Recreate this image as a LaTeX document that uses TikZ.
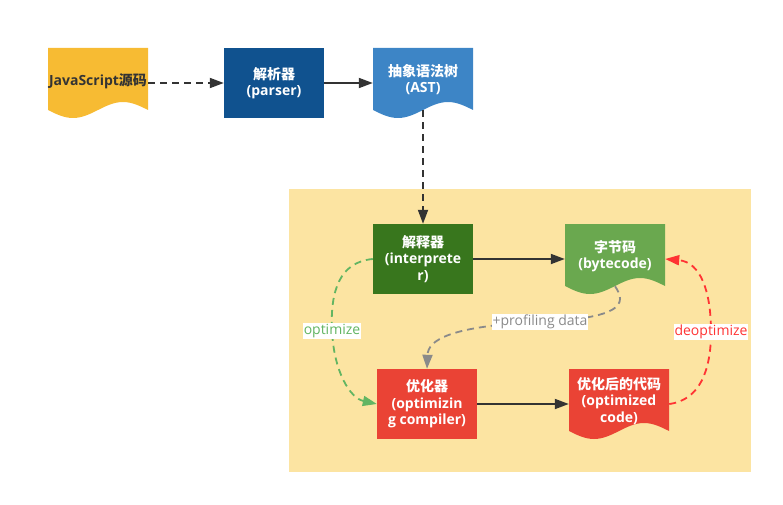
\documentclass[tikz,border=0pt]{standalone}
\usepackage{fontspec}
\setmainfont{Open Sans}
\newfontfamily\cjk{Noto Sans CJK SC}
\usetikzlibrary{arrows.meta}
\definecolor{jsyellow}{HTML}{F7BB33}
\definecolor{parserblue}{HTML}{10528F}
\definecolor{astblue}{HTML}{3D85C6}
\definecolor{engineback}{HTML}{FCE4A2}
\definecolor{interpgreen}{HTML}{38761D}
\definecolor{bytegreen}{HTML}{6AA84F}
\definecolor{optred}{HTML}{EA4335}
\definecolor{linkdark}{HTML}{333333}
\definecolor{profgray}{HTML}{8A8A8A}
\definecolor{optgreen}{HTML}{62B562}
\definecolor{deoptred}{HTML}{FF3333}
\begin{document}
\begin{tikzpicture}[x=1pt, y=-1pt,
  box/.style={minimum width=100pt, minimum height=70pt, inner sep=0pt, align=center,
    text=white, font=\bfseries\fontsize{14}{16.5}\selectfont},
  flatbox/.style={box, fill=#1},
  docbox/.style={box, text depth=9pt, path picture={
    \fill[#1] (path picture bounding box.north west) -- (path picture bounding box.north east)
      -- ++(0,62) sin ++(-25,-8) cos ++(-25,8) sin ++(-25,8) cos ++(-25,-8) -- cycle;}},
  link/.style={line width=1.8pt, draw=#1, -{Triangle[length=14pt,width=10pt]}},
  dashlink/.style={link=#1, dash pattern=on 7pt off 5pt},
  lbl/.style={fill=white, inner sep=1pt, font=\fontsize{14}{15}\selectfont}]
\useasboundingbox (0,0) rectangle (783,505);
% the engine area
\fill[engineback] (289,189) rectangle (751,472);
% source, parser, tree
\node[docbox=jsyellow, text=linkdark, text depth=6pt] (js) at (98,83) {JavaScript{\cjk 源码}};
\node[flatbox=parserblue] (parser) at (274,83) {{\cjk 解析器}\\(parser)};
\node[docbox=astblue] (ast) at (423,83) {{\cjk 抽象语法树}\\(AST)};
% interpreter and bytecode
\node[flatbox=interpgreen] (interp) at (423,259) {{\cjk 解释器}\\(interprete\\r)};
\node[docbox=bytegreen] (byte) at (615,259) {{\cjk 字节码}\\(bytecode)};
% optimizing compiler and its output
\node[flatbox=optred] (optz) at (427,404) {{\cjk 优化器}\\(optimizin\\g compiler)};
\node[docbox=optred] (optc) at (619,404) {{\cjk 优化后的代码}\\(optimized\\code)};
% straight links
\draw[dashlink=linkdark] (js) -- (parser);
\draw[link=linkdark] (parser) -- (ast);
\draw[dashlink=linkdark] ([yshift=8pt]ast.south) -- (interp);
\draw[link=linkdark] (interp) -- (byte);
\draw[link=linkdark] (optz) -- (optc);
% the loop round the engine
\draw[dashlink=optgreen] (interp.west) .. controls (340,262) and (330,290) .. (332,331)
  node[lbl, text=optgreen] {optimize}
  .. controls (334,372) and (350,398) .. (optz.west);
\draw[dashlink=profgray] ([yshift=8pt]byte.south) .. controls (628,305) and (620,318) .. (540,322)
  node[lbl, text=profgray] {+profiling data}
  .. controls (450,326) and (428,340) .. (optz.north);
\draw[dashlink=deoptred] (optc.east) .. controls (700,400) and (711,370) .. (711,332)
  node[lbl, text=deoptred] {deoptimize}
  .. controls (711,290) and (700,262) .. (byte.east);
\end{tikzpicture}
\end{document}
